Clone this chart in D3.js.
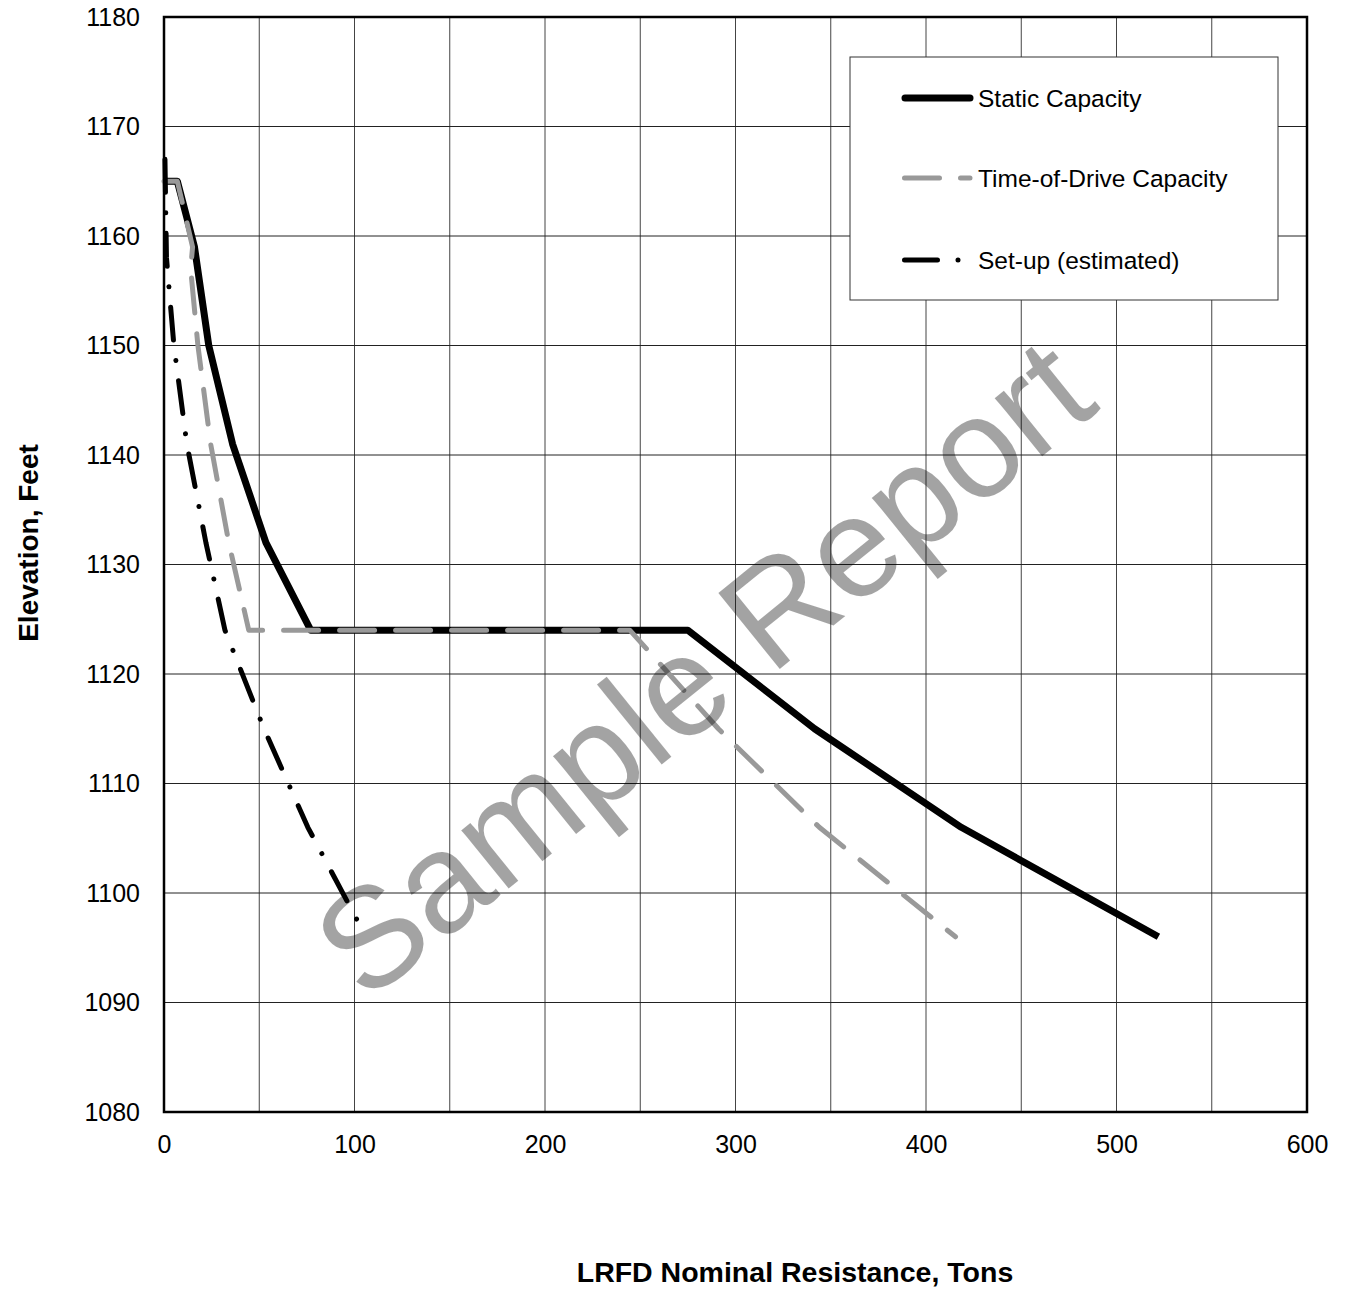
<!DOCTYPE html>
<html>
<head>
<meta charset="utf-8">
<script src="https://cdn.jsdelivr.net/npm/d3@7"></script>
<style>
  body { margin: 0; background: #fff; }
  text { font-family: Arial, "Liberation Sans", sans-serif; }
</style>
</head>
<body>
<div id="chart"></div>
<script>
// series values (tons, feet)
const staticRes  = [0, 7, 16, 23.5, 36, 53.5, 77, 275, 341.5, 418.5, 522];
const staticElev = [1165, 1165, 1159, 1150, 1141, 1132, 1124, 1124, 1115, 1106, 1096];

const todRes  = [0, 7, 15, 14, 17.8, 24.5, 34, 44.5, 244.5, 291, 344, 415.5];
const todElev = [1165, 1165, 1159, 1157, 1150, 1141, 1132, 1124, 1124, 1115, 1106, 1096];

const setupRes  = [0.5, 1.3, 5.2, 12, 22, 32, 52.5, 75.5, 104.5];
const setupElev = [1167, 1158, 1150, 1141, 1132, 1124, 1115, 1106, 1096.5];

const legendNames = ["Static Capacity", "Time-of-Drive Capacity", "Set-up (estimated)"];
const xTicks = [0, 100, 200, 300, 400, 500, 600];
const yTicks = [1080, 1090, 1100, 1110, 1120, 1130, 1140, 1150, 1160, 1170, 1180];

const W = 1345, H = 1295;
const margin = {left: 164, top: 17, right: 38, bottom: 183};
const pw = W - margin.left - margin.right;
const ph = H - margin.top - margin.bottom;

const svg = d3.select("#chart").append("svg")
    .attr("width", W)
    .attr("height", H);

const g = svg.append("g")
    .attr("transform", `translate(${margin.left},${margin.top})`);

const x = d3.scaleLinear().domain([0, 600]).range([0, pw]);
const y = d3.scaleLinear().domain([1080, 1180]).range([ph, 0]);

// grid
g.append("g").selectAll("line")
    .data(d3.range(50, 600, 50))
    .join("line")
    .attr("x1", d => x(d)).attr("x2", d => x(d))
    .attr("y1", 0).attr("y2", ph)
    .attr("stroke", "#444").attr("stroke-width", 1);

g.append("g").selectAll("line")
    .data(yTicks.slice(1, -1))
    .join("line")
    .attr("x1", 0).attr("x2", pw)
    .attr("y1", d => y(d)).attr("y2", d => y(d))
    .attr("stroke", "#222").attr("stroke-width", 1);

g.append("rect")
    .attr("width", pw).attr("height", ph)
    .attr("fill", "none")
    .attr("stroke", "#000")
    .attr("stroke-width", 2.5);

// axes (labels only)
const xAxis = g.append("g")
    .attr("transform", `translate(0,${ph})`)
    .call(d3.axisBottom(x).tickValues(xTicks).tickFormat(d3.format("d")).tickSize(0).tickPadding(23));
const yAxis = g.append("g")
    .call(d3.axisLeft(y).tickValues(yTicks).tickFormat(d3.format("d")).tickSize(0).tickPadding(24));
[xAxis, yAxis].forEach(a => {
    a.select(".domain").remove();
    a.selectAll("text")
        .attr("font-size", 25)
        .attr("font-family", "Arial, 'Liberation Sans', sans-serif")
        .attr("fill", "#000");
});

// series
const toPts = (xs, ys) => xs.map((v, i) => [v, ys[i]]);
const line = d3.line().x(d => x(d[0])).y(d => y(d[1]));

const series = [
    {name: legendNames[0], pts: toPts(staticRes, staticElev), color: "#000", w: 7, dash: null},
    {name: legendNames[1], pts: toPts(todRes, todElev), color: "#999", w: 5, dash: "35,21"},
    {name: legendNames[2], pts: toPts(setupRes, setupElev), color: "#000", w: 5, dash: "33,20.5,0.01,20.5"}
];

g.append("g").selectAll("path")
    .data(series)
    .join("path")
    .attr("d", d => line(d.pts))
    .attr("fill", "none")
    .attr("stroke", d => d.color)
    .attr("stroke-width", d => d.w)
    .attr("stroke-dasharray", d => d.dash)
    .attr("stroke-linecap", d => d.dash ? "round" : "butt")
    .attr("stroke-linejoin", "round");

// legend
const lg = svg.append("g").attr("transform", "translate(850,57)");
lg.append("rect")
    .attr("width", 428).attr("height", 243)
    .attr("fill", "#fff")
    .attr("stroke", "#333")
    .attr("stroke-width", 1);

const rows = lg.selectAll("g.row")
    .data(series)
    .join("g")
    .attr("class", "row")
    .attr("transform", (d, i) => `translate(0,${[41, 121, 203][i]})`);

rows.append("line")
    .attr("x1", d => d.dash ? 54.5 : 55).attr("x2", 120)
    .attr("stroke", d => d.color)
    .attr("stroke-width", d => d.w)
    .attr("stroke-linecap", "round")
    .attr("stroke-dasharray", d => d.dash);

rows.append("text")
    .attr("x", 128)
    .attr("dy", "0.36em")
    .attr("font-size", 24.5)
    .text(d => d.name);

// axis titles
svg.append("text")
    .attr("x", 795).attr("y", 1282)
    .attr("text-anchor", "middle")
    .attr("font-size", 28.5)
    .attr("font-weight", "bold")
    .text("LRFD Nominal Resistance, Tons");

svg.append("text")
    .attr("transform", "translate(38,543) rotate(-90)")
    .attr("text-anchor", "middle")
    .attr("font-size", 28)
    .attr("font-weight", "bold")
    .text("Elevation, Feet");

// watermark
svg.append("text")
    .attr("transform", "translate(734,706) rotate(-39)")
    .attr("text-anchor", "middle")
    .attr("font-size", 142)
    .attr("fill", "rgba(0,0,0,0.36)")
    .text("Sample Report");
</script>
</body>
</html>
